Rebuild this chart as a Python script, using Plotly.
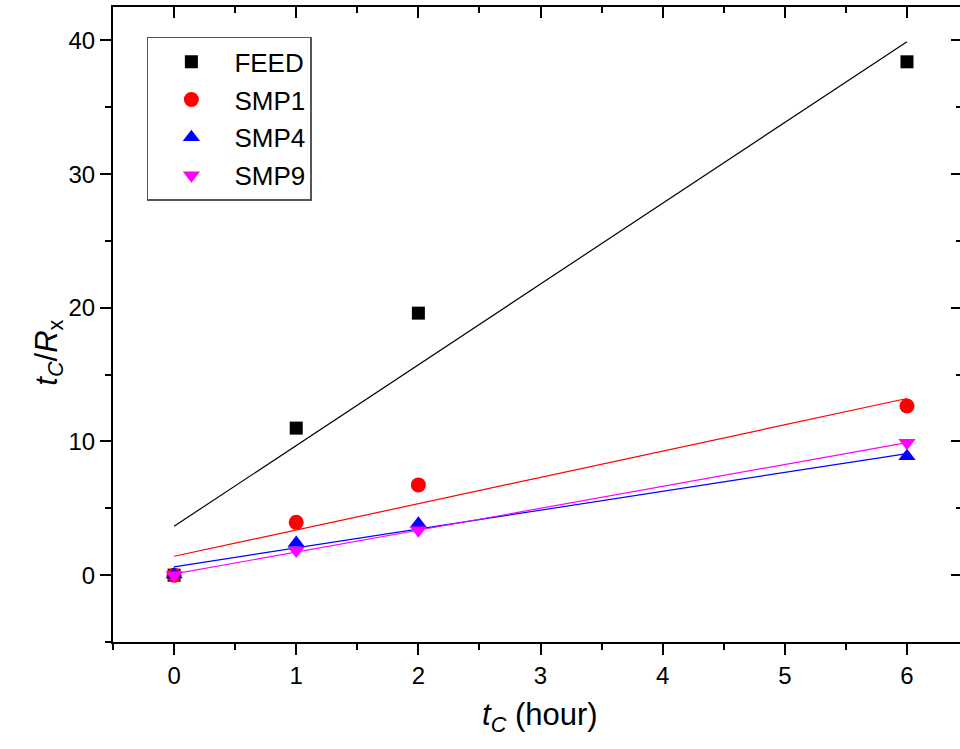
import numpy as np
import plotly.graph_objects as go

# Sampling times (hour)
t_c = [0, 1, 2, 6]

# t_C / R_x for each sample
feed = [0.0, 11.0, 19.6, 38.4]
smp1 = [0.0, 3.95, 6.75, 12.65]
smp4 = [0.05, 2.4, 3.85, 8.9]
smp9 = [0.0, 1.85, 3.35, 9.9]

series_names = ["FEED", "SMP1", "SMP4", "SMP9"]
series_values = [feed, smp1, smp4, smp9]
colors = ["#000000", "#ff0000", "#0000ff", "#ff00ff"]
symbols = ["square", "circle", "triangle-up", "triangle-down"]
sizes = [13, 15, 15, 15]

x_ticks = [0, 1, 2, 3, 4, 5, 6]
y_ticks = [0, 10, 20, 30, 40]

FONT = "Liberation Sans, Arial, sans-serif"

fig = go.Figure()

# Least-squares fit lines for each series, drawn over the sampled span
x_fit = np.array([min(t_c), max(t_c)], dtype=float)
for name, vals, col in zip(series_names, series_values, colors):
    slope, intercept = np.polyfit(t_c, vals, 1)
    fig.add_trace(go.Scatter(
        x=x_fit, y=slope * x_fit + intercept, mode="lines",
        line=dict(color=col, width=1.2), showlegend=False, hoverinfo="skip"))

# Measured points
for name, vals, col, sym, sz in zip(series_names, series_values, colors, symbols, sizes):
    fig.add_trace(go.Scatter(
        x=t_c, y=vals, mode="markers", name=name, legendgroup=name,
        marker=dict(color=col, symbol=sym, size=sz, line=dict(width=0))))

# Empty trace so the mirrored top / right axes are rendered
fig.add_trace(go.Scatter(x=[], y=[], xaxis="x2", yaxis="y2", showlegend=False))

x_range = [-0.5, 6.434]
y_range = [-5, 42.5]

axis_common = dict(showgrid=False, zeroline=False, linecolor="black", linewidth=2,
                   tickcolor="black", tickwidth=2,
                   tickfont=dict(family=FONT, size=24, color="black"))

fig.update_layout(
    width=960, height=749,
    margin=dict(l=113, r=0, t=7, b=107),
    paper_bgcolor="white", plot_bgcolor="white",
    font=dict(family=FONT, color="black"),
    xaxis=dict(range=x_range, tickvals=x_ticks, ticks="outside", ticklen=11,
               showline=True,
               minor=dict(dtick=0.5, ticks="outside", ticklen=6, tickcolor="black", tickwidth=2),
               **axis_common),
    yaxis=dict(range=y_range, tickvals=y_ticks, ticks="outside", ticklen=11,
               showline=True,
               minor=dict(dtick=5, ticks="outside", ticklen=6, tickcolor="black", tickwidth=2),
               **axis_common),
    xaxis2=dict(range=x_range, overlaying="x", side="top", anchor="y2",
                tickvals=x_ticks, ticks="inside", ticklen=11, showline=True,
                showticklabels=False,
                minor=dict(dtick=0.5, ticks="inside", ticklen=6, tickcolor="black", tickwidth=2),
                **axis_common),
    yaxis2=dict(range=y_range, overlaying="y", side="right", anchor="x2",
                tickvals=y_ticks, ticks="inside", ticklen=9, showline=False,
                showticklabels=False,
                minor=dict(dtick=5, ticks="inside", ticklen=4, tickcolor="black", tickwidth=2),
                **axis_common),
    legend=dict(x=0.040, y=0.953, xanchor="left", yanchor="top",
                bordercolor="#555555", borderwidth=1.5, bgcolor="white",
                font=dict(family=FONT, size=26, color="black"),
                itemwidth=76, tracegroupgap=1, entrywidth=170),
    annotations=[
        dict(text="<i>t</i><sub><i>C</i></sub> (hour)", xref="paper", yref="paper",
             x=0.504, y=-0.118, xanchor="center", yanchor="middle", showarrow=False,
             font=dict(family=FONT, size=31, color="black")),
        dict(text="<i>t</i><sub><i>C</i></sub>/<i>R</i><sub>x</sub>", xref="paper", yref="paper",
             x=-0.076, y=0.455, xanchor="center", yanchor="middle", showarrow=False,
             textangle=-90, font=dict(family=FONT, size=31, color="black")),
    ],
)

fig.write_html("out.html")
